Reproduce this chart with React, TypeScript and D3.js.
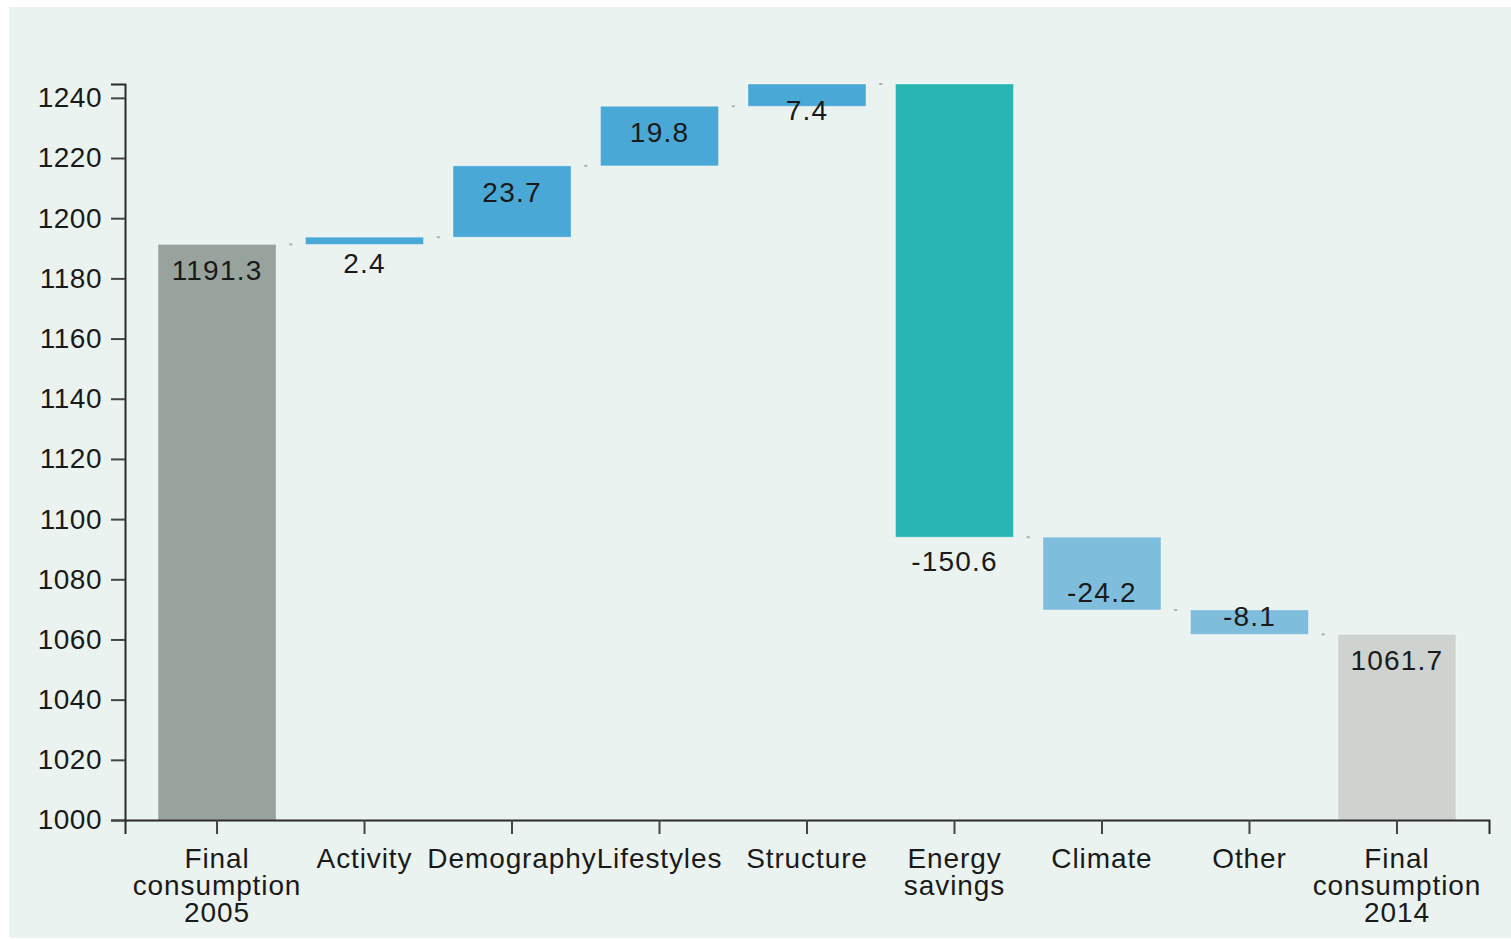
import React, { useEffect, useRef } from "react";
import * as d3 from "d3";

const categories = [
  "Final\nconsumption\n2005",
  "Activity",
  "Demography",
  "Lifestyles",
  "Structure",
  "Energy\nsavings",
  "Climate",
  "Other",
  "Final\nconsumption\n2014",
];
const values = [1191.3, 2.4, 23.7, 19.8, 7.4, -150.6, -24.2, -8.1, 1061.7];
const isTotal = [true, false, false, false, false, false, false, false, true];
const yTicks = [1000, 1020, 1040, 1060, 1080, 1100, 1120, 1140, 1160, 1180, 1200, 1220, 1240];
const yMin = 1000;

const W = 1511;
const H = 939;
const FONT = "'Liberation Sans', Arial, sans-serif";

const colorFirstTotal = "#97a39c";
const colorLastTotal = "#ced3d0";
const colorUp = "#4aa8d6";
const colorDown = "#7ebddc";
const colorBigDown = "#27b6b1";
const textColor = "#1a1a1a";

const fmt = (v: number) => (v < 0 ? "-" : "") + Math.abs(v).toFixed(1);

export default function App() {
  const ref = useRef<SVGSVGElement | null>(null);

  useEffect(() => {
    const svg = d3.select(ref.current);
    svg.selectAll("*").remove();

    let run = 0;
    const bars = values.map((v, i) => {
      let start: number, end: number;
      if (isTotal[i]) {
        start = yMin;
        end = v;
        run = v;
      } else {
        start = run;
        end = run + v;
        run = end;
      }
      return { cat: categories[i], v, start, end, total: isTotal[i], i };
    });
    const maxVal = d3.max(bars, (b) => Math.max(b.start, b.end)) as number;

    const x = d3
      .scaleBand<string>()
      .domain(categories)
      .range([125, 1489])
      .paddingInner(0.2)
      .paddingOuter(0.224);
    const y = d3.scaleLinear().domain([yMin, maxVal]).range([820, 84]);

    svg
      .append("rect")
      .attr("x", 9)
      .attr("y", 7)
      .attr("width", W - 9)
      .attr("height", 931)
      .attr("fill", "#ebf3f0");

    const colorOf = (b: any) => {
      if (b.total) return b.i === 0 ? colorFirstTotal : colorLastTotal;
      if (b.v >= 0) return colorUp;
      if (Math.abs(b.v) > 100) return colorBigDown;
      return colorDown;
    };

    for (let i = 0; i < bars.length - 1; i++) {
      const b = bars[i];
      const x0 = (x(b.cat) as number) + x.bandwidth();
      const x1 = x(bars[i + 1].cat) as number;
      const mid = (x0 + x1) / 2;
      const yy = y(b.end);
      svg
        .append("line")
        .attr("x1", mid - 1.5)
        .attr("x2", mid + 1.5)
        .attr("y1", yy)
        .attr("y2", yy)
        .attr("stroke", "#a9b0ad")
        .attr("stroke-width", 2);
    }

    svg
      .append("g")
      .selectAll("rect")
      .data(bars)
      .join("rect")
      .attr("x", (b) => x(b.cat) as number)
      .attr("width", x.bandwidth())
      .attr("y", (b) => y(Math.max(b.start, b.end)))
      .attr("height", (b) => Math.abs(y(b.start) - y(b.end)))
      .attr("fill", (b) => colorOf(b))
      .attr("stroke", "rgba(255,255,255,0.35)")
      .attr("stroke-width", 1);

    svg
      .append("g")
      .selectAll("text")
      .data(bars)
      .join("text")
      .attr("x", (b) => (x(b.cat) as number) + x.bandwidth() / 2)
      .attr("y", (b) => {
        const top = y(Math.max(b.start, b.end));
        const bottom = y(Math.min(b.start, b.end));
        let center: number;
        if (b.total || b.v >= 0) center = top + 26;
        else if (bottom - top > 100) center = bottom + 24;
        else center = bottom - 18;
        return center + 10;
      })
      .attr("text-anchor", "middle")
      .attr("font-family", FONT)
      .attr("font-size", 28)
      .attr("letter-spacing", 1.2)
      .attr("fill", textColor)
      .text((b) => fmt(b.v));

    const yAxis = d3
      .axisLeft(y)
      .tickValues(yTicks)
      .tickFormat(d3.format("d") as any)
      .tickSizeInner(14)
      .tickSizeOuter(14)
      .tickPadding(9);
    const gy = svg.append("g").attr("transform", "translate(125,0)").call(yAxis);
    gy.select(".domain").attr("stroke", "#2a2a2a").attr("stroke-width", 2);
    gy.selectAll(".tick line").attr("stroke", "#444").attr("stroke-width", 2);
    gy.selectAll(".tick text")
      .attr("font-family", FONT)
      .attr("font-size", 28)
      .attr("letter-spacing", 0.5)
      .attr("fill", textColor);

    const xAxis = d3.axisBottom(x).tickSizeInner(14).tickSizeOuter(14).tickFormat(() => "");
    const gx = svg.append("g").attr("transform", "translate(0,820)").call(xAxis);
    gx.select(".domain").attr("stroke", "#2a2a2a").attr("stroke-width", 2);
    gx.selectAll(".tick line").attr("stroke", "#444").attr("stroke-width", 2);

    const lab = svg.append("g");
    categories.forEach((c) => {
      const lines = c.split("\n");
      const t = lab
        .append("text")
        .attr("text-anchor", "middle")
        .attr("font-family", FONT)
        .attr("font-size", 28)
        .attr("letter-spacing", 0.9)
        .attr("fill", textColor);
      lines.forEach((ln, k) => {
        t.append("tspan")
          .attr("x", (x(c) as number) + x.bandwidth() / 2)
          .attr("y", 868 + k * 27)
          .text(ln);
      });
    });
  }, []);

  return (
    <svg
      ref={ref}
      width={W}
      height={H}
      style={{ position: "absolute", left: 0, top: 0, background: "#ffffff" }}
    />
  );
}
